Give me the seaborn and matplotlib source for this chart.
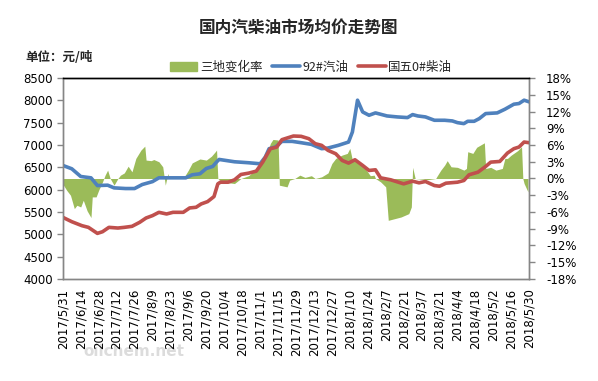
import matplotlib
matplotlib.use('Agg')
import matplotlib.pyplot as plt
from matplotlib.patches import Patch
from matplotlib.lines import Line2D
import seaborn as sns
import pandas as pd

# 92# gasoline average price, yuan/ton
gas_dates = ['2017-05-31', '2017-06-07', '2017-06-14', '2017-06-22', '2017-06-27',
             '2017-07-05', '2017-07-10', '2017-07-19', '2017-07-26', '2017-08-01',
             '2017-08-09', '2017-08-14', '2017-08-22', '2017-09-04', '2017-09-09',
             '2017-09-15', '2017-09-20', '2017-09-25', '2017-09-28', '2017-09-30',
             '2017-10-12', '2017-10-23', '2017-11-01', '2017-11-05', '2017-11-08',
             '2017-11-13', '2017-11-18', '2017-11-26', '2017-12-03', '2017-12-11',
             '2017-12-19', '2017-12-24', '2018-01-01', '2018-01-09', '2018-01-12',
             '2018-01-16', '2018-01-20', '2018-01-25', '2018-01-30', '2018-02-08',
             '2018-02-16', '2018-02-24', '2018-02-28', '2018-03-04', '2018-03-10',
             '2018-03-17', '2018-03-25', '2018-03-31', '2018-04-04', '2018-04-09',
             '2018-04-12', '2018-04-17', '2018-04-21', '2018-04-26', '2018-05-05',
             '2018-05-11', '2018-05-18', '2018-05-22', '2018-05-26', '2018-05-30']
gas_price = [6543, 6468, 6295, 6265, 6092, 6100, 6040, 6025, 6025, 6115,
             6180, 6265, 6265, 6265, 6333, 6355, 6475, 6520, 6620, 6677,
             6625, 6603, 6580, 6730, 6918, 6955, 7082, 7082, 7052, 7015,
             6918, 6933, 6993, 7067, 7292, 8005, 7742, 7667, 7720, 7652,
             7630, 7615, 7682, 7652, 7630, 7555, 7555, 7540, 7502, 7480,
             7532, 7532, 7592, 7705, 7720, 7802, 7915, 7930, 8005, 7967]

# national V 0# diesel average price, yuan/ton
diesel_dates = ['2017-05-31', '2017-06-07', '2017-06-15', '2017-06-20', '2017-06-27',
                '2017-07-01', '2017-07-06', '2017-07-13', '2017-07-18', '2017-07-24',
                '2017-07-30', '2017-08-04', '2017-08-09', '2017-08-14', '2017-08-20',
                '2017-08-25', '2017-09-02', '2017-09-07', '2017-09-12', '2017-09-16',
                '2017-09-21', '2017-09-26', '2017-09-29', '2017-10-01', '2017-10-07',
                '2017-10-12', '2017-10-17', '2017-10-23', '2017-10-29', '2017-11-03',
                '2017-11-09', '2017-11-14', '2017-11-18', '2017-11-22', '2017-11-27',
                '2017-12-03', '2017-12-09', '2017-12-14', '2017-12-19', '2017-12-24',
                '2017-12-30', '2018-01-04', '2018-01-09', '2018-01-14', '2018-01-20',
                '2018-01-25', '2018-01-30', '2018-02-03', '2018-02-11', '2018-02-21',
                '2018-02-28', '2018-03-05', '2018-03-10', '2018-03-17', '2018-03-21',
                '2018-03-26', '2018-04-04', '2018-04-09', '2018-04-13', '2018-04-20',
                '2018-04-26', '2018-04-30', '2018-05-07', '2018-05-13', '2018-05-18',
                '2018-05-22', '2018-05-26', '2018-05-30']
diesel_price = [5380, 5282, 5192, 5155, 5020, 5057, 5155, 5140, 5155, 5178,
                5268, 5365, 5418, 5492, 5455, 5492, 5492, 5590, 5605, 5680,
                5732, 5845, 6130, 6167, 6167, 6220, 6340, 6370, 6415, 6617,
                6918, 6955, 7120, 7157, 7202, 7195, 7142, 7030, 6993, 6880,
                6805, 6655, 6595, 6670, 6543, 6430, 6445, 6265, 6220, 6130,
                6190, 6153, 6183, 6092, 6077, 6145, 6167, 6205, 6333, 6392,
                6520, 6617, 6632, 6820, 6918, 6955, 7067, 7052]

# change rate of the three regions, %
rate_dates = ['2017-05-31', '2017-06-03', '2017-06-06', '2017-06-09', '2017-06-11',
              '2017-06-14', '2017-06-16', '2017-06-19', '2017-06-22', '2017-06-23',
              '2017-06-26', '2017-06-28', '2017-07-01', '2017-07-03', '2017-07-05',
              '2017-07-07', '2017-07-10', '2017-07-13', '2017-07-15', '2017-07-18',
              '2017-07-21', '2017-07-24', '2017-07-27', '2017-07-31', '2017-08-03',
              '2017-08-04', '2017-08-08', '2017-08-10', '2017-08-14', '2017-08-17',
              '2017-08-19', '2017-08-21', '2017-08-22', '2017-09-02', '2017-09-06',
              '2017-09-09', '2017-09-15', '2017-09-20', '2017-09-24', '2017-09-27',
              '2017-09-28', '2017-09-29', '2017-10-02', '2017-10-12', '2017-10-17',
              '2017-10-23', '2017-10-28', '2017-11-01', '2017-11-05', '2017-11-09',
              '2017-11-11', '2017-11-15', '2017-11-16', '2017-11-22', '2017-11-24',
              '2017-11-28', '2017-12-02', '2017-12-06', '2017-12-11', '2017-12-14',
              '2017-12-19', '2017-12-24', '2017-12-27', '2017-12-30', '2018-01-04',
              '2018-01-08', '2018-01-10', '2018-01-12', '2018-01-17', '2018-01-22',
              '2018-01-26', '2018-01-29', '2018-01-30', '2018-02-03', '2018-02-07',
              '2018-02-09', '2018-02-19', '2018-02-25', '2018-02-27', '2018-02-28',
              '2018-03-02', '2018-03-12', '2018-03-18', '2018-03-19', '2018-03-22',
              '2018-03-25', '2018-03-27', '2018-03-30', '2018-04-04', '2018-04-09',
              '2018-04-11', '2018-04-12', '2018-04-16', '2018-04-19', '2018-04-25',
              '2018-04-26', '2018-04-30', '2018-05-04', '2018-05-09', '2018-05-11',
              '2018-05-13', '2018-05-16', '2018-05-21', '2018-05-24', '2018-05-25',
              '2018-05-26', '2018-05-29']
rate_pct = [-1.0, -2.1, -3.0, -5.4, -4.8, -5.1, -3.9, -5.8, -7.0, -3.3,
            -3.3, -2.1, -0.6, 0.6, 1.5, 0.0, -1.2, 0.0, 0.6, 1.0,
            2.2, 1.2, 3.6, 5.1, 5.8, 3.3, 3.2, 3.4, 3.0, 2.1,
            -1.2, 0.9, 0.0, 0.0, 1.5, 2.8, 3.5, 3.3, 4.0, 4.8,
            5.1, 0.0, -0.6, -0.9, 0.0, 0.5, 1.5, 2.4, 3.6, 6.3,
            7.0, 6.9, -1.2, -1.5, -0.3, 0.0, 0.6, 0.2, 0.5, 0.0,
            0.3, 1.0, 2.7, 3.6, 4.2, 4.5, 5.4, 3.3, 3.0, 1.8,
            0.5, 0.6, 0.0, -0.6, -1.5, -7.5, -6.9, -6.3, -5.1, 2.0,
            0.0, -0.2, 0.0, 0.4, 1.5, 2.4, 3.2, 2.1, 2.0, 1.5,
            1.8, 4.8, 4.5, 5.6, 6.4, 1.8, 2.0, 1.5, 1.8, 3.6,
            3.6, 4.2, 5.0, 5.7, 0.0, -0.9, -2.4]

first_day = '2017-05-31'
last_day = '2018-05-30'

title = '国内汽柴油市场均价走势图'
unit_label = '单位：元/吨'
legend_names = ['三地变化率', '92#汽油', '国五0#柴油']

green = '#9BBB59'
blue = '#4F81BD'
red = '#C0504D'
grey = '#868686'
cjk = ['Noto Sans CJK SC', 'DejaVu Sans']

sns.set_style('white')
plt.rcParams['font.family'] = ['DejaVu Sans', 'Noto Sans CJK SC']

fig = plt.figure(figsize=(5.98, 3.81), dpi=100)
ax = fig.add_axes([0.105, 0.268, 0.78, 0.527])
ax2 = ax.twinx()

ax2.fill_between(pd.to_datetime(rate_dates), 0, rate_pct, color=green,
                 linewidth=0)
sns.lineplot(x=pd.to_datetime(gas_dates), y=gas_price, ax=ax, color=blue,
             linewidth=2.6)
sns.lineplot(x=pd.to_datetime(diesel_dates), y=diesel_price, ax=ax, color=red,
             linewidth=2.6)

# lines above the green area
ax.set_zorder(ax2.get_zorder() + 1)
ax.patch.set_visible(False)

ax.set_xlim(pd.Timestamp(first_day), pd.Timestamp(last_day))
ax.set_ylim(4000, 8500)
ax.set_yticks(range(4000, 8501, 500))
ax2.set_ylim(-18, 18)
ax2.set_yticks(range(-18, 19, 3))
ax2.set_yticklabels([f'{v}%' for v in range(-18, 19, 3)])

ticks = pd.date_range(first_day, last_day, freq='14D')
ax.set_xticks(ticks)
ax.set_xticklabels([f'{d.year}/{d.month}/{d.day}' for d in ticks],
                   rotation=90)

for a in (ax, ax2):
    for s in a.spines.values():
        s.set_color(grey)
        s.set_linewidth(1)
    a.spines['top'].set_color('black')
    a.tick_params(colors=grey, labelcolor='black', labelsize=8.5,
                  length=4, width=1, direction='out')
ax.tick_params(axis='x', labelsize=8.5, pad=3)
ax.tick_params(axis='y', pad=3)
ax2.tick_params(axis='y', pad=8)
ax.set_xlabel('')
ax.set_ylabel('')

handles = [Patch(color=green),
           Line2D([], [], color=blue, linewidth=2.6),
           Line2D([], [], color=red, linewidth=2.6)]
fig.legend(handles, legend_names, loc='center', ncol=3, frameon=False,
           bbox_to_anchor=(0.52, 0.824), handlelength=2.2, handletextpad=0.2,
           columnspacing=0.8, prop={'family': cjk, 'size': 9})

fig.text(0.5, 0.926, title, ha='center', va='center', fontsize=12,
         fontweight='bold', family=cjk)
fig.text(0.042, 0.85, unit_label, ha='left', va='center', fontsize=9,
         fontweight='bold', family=cjk)

# faint watermark
fig.text(0.14, 0.065, 'oilchem.net', color='#dcdcdc', fontsize=11,
         fontweight='bold', zorder=0)

fig.savefig('out.png', dpi=100)
